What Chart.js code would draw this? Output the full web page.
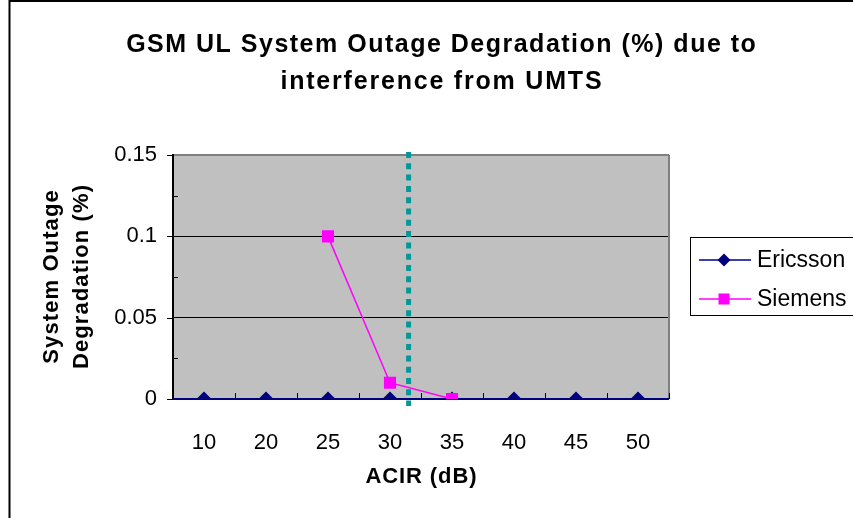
<!DOCTYPE html>
<html>
<head>
<meta charset="utf-8">
<script src="https://cdn.jsdelivr.net/npm/chart.js@4"></script>
<style>
  html, body { margin: 0; padding: 0; background: #fff; }
  #wrap { width: 853px; height: 518px; position: relative; }
</style>
</head>
<body>
<div id="wrap"><canvas id="c" width="853" height="518"></canvas></div>
<script>
// --- data ---
const acirLabels = ['10', '20', '25', '30', '35', '40', '45', '50'];
const ericsson = [0, 0, 0, 0, 0, 0, 0, 0];
const siemens = [null, null, 0.1, 0.01, 0, null, null, null];
const yTicks = [0, 0.05, 0.1, 0.15];
const thresholdAcir = 31.5; // dashed teal marker, between 30 and 35

const titleLines = ['GSM UL System Outage Degradation (%) due to', 'interference from UMTS'];
const yTitleLines = ['System Outage', 'Degradation (%)'];
const xTitle = 'ACIR (dB)';

const FONT = '"Liberation Sans", Arial, sans-serif';
Chart.defaults.font.family = FONT;
Chart.defaults.color = '#000';

// Excel-ish text is spaced wider than the plain font, so spread it a bit
function spacedText(ctx, text, x, y, spacing) {
  if ('letterSpacing' in ctx) {
    ctx.letterSpacing = spacing + 'px';
    ctx.fillText(text, x + spacing / 2, y);
    ctx.letterSpacing = '0px';
  } else {
    ctx.fillText(text, x, y);
  }
}

// Excel-ish frame: gray plot area, ticks, threshold line, titles, legend box
const excelLook = {
  id: 'excelLook',
  beforeDraw(chart) {
    const { ctx, chartArea: a } = chart;
    ctx.save();
    ctx.fillStyle = '#fff';
    ctx.fillRect(0, 0, chart.width, chart.height);
    ctx.fillStyle = '#c0c0c0';
    ctx.fillRect(a.left, a.top, a.right - a.left, a.bottom - a.top);
    // outer chart border (only top/left visible in the crop)
    ctx.strokeStyle = '#000';
    ctx.lineWidth = 2;
    ctx.beginPath();
    ctx.moveTo(9.5, chart.height);
    ctx.lineTo(9.5, 1);
    ctx.lineTo(chart.width, 1);
    ctx.stroke();
    ctx.restore();
  },
  beforeDatasetsDraw(chart) {
    const { ctx, chartArea: a, scales: { x, y } } = chart;
    ctx.save();
    // right border of plot area
    ctx.strokeStyle = '#808080';
    ctx.lineWidth = 2;
    ctx.beginPath();
    ctx.moveTo(a.right, a.top);
    ctx.lineTo(a.right, a.bottom);
    ctx.stroke();
    // y ticks: major outward, minor inward
    ctx.strokeStyle = '#000';
    ctx.lineWidth = 1;
    ctx.beginPath();
    for (let v = 0; v <= 0.15 + 1e-9; v += 0.025) {
      const py = Math.round(y.getPixelForValue(v)) + 0.5;
      const major = Math.abs(v / 0.05 - Math.round(v / 0.05)) < 1e-6;
      if (major) { ctx.moveTo(a.left - 6, py); ctx.lineTo(a.left, py); }
      else { ctx.moveTo(a.left, py); ctx.lineTo(a.left + 5, py); }
    }
    // x ticks between categories, pointing up
    const step = x.getPixelForValue(1) - x.getPixelForValue(0);
    for (let i = 0; i <= acirLabels.length; i++) {
      const px = Math.round(x.getPixelForValue(0) - step / 2 + i * step) + 0.5;
      ctx.moveTo(px, a.bottom);
      ctx.lineTo(px, a.bottom - 6);
    }
    ctx.stroke();
    // bottom axis line (navy)
    ctx.strokeStyle = '#000080';
    ctx.lineWidth = 2;
    ctx.beginPath();
    ctx.moveTo(a.left, a.bottom);
    ctx.lineTo(a.right, a.bottom);
    ctx.stroke();
    ctx.restore();
  },
  afterDatasetsDraw(chart) {
    const { ctx, chartArea: a, scales: { x } } = chart;
    // threshold marker placed between the neighbouring categories
    const vals = acirLabels.map(Number);
    let i = vals.findIndex((v, k) => v <= thresholdAcir && vals[k + 1] > thresholdAcir);
    const f = (thresholdAcir - vals[i]) / (vals[i + 1] - vals[i]);
    const px = x.getPixelForValue(i) + f * (x.getPixelForValue(i + 1) - x.getPixelForValue(i));
    ctx.save();
    ctx.strokeStyle = '#009999';
    ctx.lineWidth = 5;
    ctx.setLineDash([6, 5.3]);
    ctx.beginPath();
    ctx.moveTo(px, a.top - 3);
    ctx.lineTo(px, a.bottom + 7);
    ctx.stroke();
    ctx.restore();
  },
  afterDraw(chart) {
    const { ctx, chartArea: a } = chart;
    ctx.save();
    ctx.fillStyle = '#000';
    ctx.textAlign = 'center';
    ctx.textBaseline = 'middle';
    ctx.font = 'bold 25px ' + FONT;
    spacedText(ctx, titleLines[0], 441, 45, 1.5);
    spacedText(ctx, titleLines[1], 441, 82, 1.8);
    ctx.font = 'bold 22px ' + FONT;
    spacedText(ctx, xTitle, (a.left + a.right) / 2, 477, 0.9);
    ctx.save();
    ctx.translate(52, 277);
    ctx.rotate(-Math.PI / 2);
    spacedText(ctx, yTitleLines[0], 0, 0, 1.1);
    ctx.restore();
    ctx.save();
    ctx.translate(82, 277);
    ctx.rotate(-Math.PI / 2);
    spacedText(ctx, yTitleLines[1], 0, 0, 1.1);
    ctx.restore();

    // legend box (runs off the right edge like the reference)
    ctx.strokeStyle = '#000';
    ctx.lineWidth = 1;
    ctx.strokeRect(690.5, 237.5, 200, 78);
    ctx.font = '23px ' + FONT;
    ctx.textAlign = 'left';
    chart.data.datasets.forEach((ds, k) => {
      const ly = 260 + k * 39;
      ctx.strokeStyle = ds.borderColor;
      ctx.lineWidth = 1.5;
      ctx.beginPath();
      ctx.moveTo(699, ly);
      ctx.lineTo(751, ly);
      ctx.stroke();
      ctx.fillStyle = ds.pointBackgroundColor;
      ctx.beginPath();
      if (ds.pointStyle === 'rectRot') {
        ctx.moveTo(724, ly - 6.5); ctx.lineTo(730.5, ly); ctx.lineTo(724, ly + 6.5); ctx.lineTo(717.5, ly);
        ctx.closePath();
      } else {
        ctx.rect(718.5, ly - 5.5, 11, 11);
      }
      ctx.fill();
      ctx.fillStyle = '#000';
      ctx.fillText(ds.label, 757, ly + 1);
    });
    ctx.restore();
  }
};

new Chart(document.getElementById('c'), {
  type: 'line',
  data: {
    labels: acirLabels,
    datasets: [
      {
        label: 'Ericsson',
        data: ericsson,
        borderColor: '#000080',
        backgroundColor: '#000080',
        pointBackgroundColor: '#000080',
        pointBorderColor: '#000080',
        pointStyle: 'rectRot',
        pointRadius: 6.5,
        borderWidth: 1.5,
        order: 1,
        tension: 0,
      },
      {
        label: 'Siemens',
        data: siemens,
        borderColor: '#ff00ff',
        backgroundColor: '#ff00ff',
        pointBackgroundColor: '#ff00ff',
        pointBorderColor: '#ff00ff',
        pointStyle: 'rect',
        pointRadius: 7.5,
        borderWidth: 1.5,
        order: 0,
        tension: 0,
      },
    ],
  },
  options: {
    responsive: false,
    animation: false,
    devicePixelRatio: 1,
    layout: { padding: { left: 0, right: 184, top: 155, bottom: 0 } },
    plugins: { legend: { display: false }, tooltip: { enabled: false } },
    scales: {
      x: {
        type: 'category',
        offset: true,
        grid: { display: false },
        border: { display: false },
        ticks: { font: { size: 22 }, color: '#000', padding: 23, maxRotation: 0 },
        afterFit(s) { s.height = 119; },
      },
      y: {
        min: 0,
        max: 0.15,
        afterBuildTicks(s) { s.ticks = yTicks.map(v => ({ value: v })); },
        grid: {
          color: ctx => (ctx.tick && ctx.tick.value === 0.15 ? '#808080' : '#000'),
          lineWidth: ctx => (ctx.tick && ctx.tick.value === 0.15 ? 2 : 1),
          drawTicks: false,
        },
        border: { display: true, color: '#000', width: 2 },
        ticks: { font: { size: 22 }, color: '#000', padding: 16, callback: v => String(v) },
        afterFit(s) { s.width = 173; },
      },
    },
  },
  plugins: [excelLook],
});
</script>
</body>
</html>
